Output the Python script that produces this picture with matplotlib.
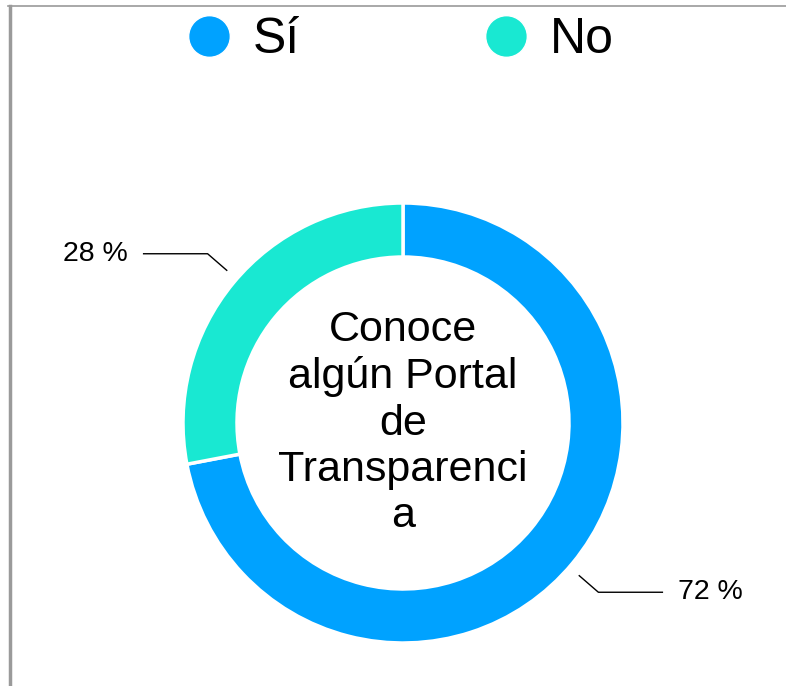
import matplotlib
matplotlib.use("Agg")
import matplotlib.pyplot as plt
from matplotlib.lines import Line2D
import numpy as np

plt.rcParams['font.family'] = ['Liberation Sans', 'DejaVu Sans']

categories = ["Sí", "No"]
values = [72, 28]
colors = ["#00A2FF", "#19E8D2"]
center_title = "Conoce\nalgún Portal\nde\nTransparenci\na"

W, H = 786, 686
fig = plt.figure(figsize=(W / 100, H / 100), dpi=100)
ax = fig.add_axes([0, 0, 1, 1])

cx, cy, R = 403, H - 423, 220
ring = 54
wedges, _ = ax.pie(values, colors=colors, startangle=90, counterclock=False,
                   center=(cx, cy), radius=R, frame=True,
                   wedgeprops=dict(width=ring, edgecolor='white', linewidth=2.5))
ax.set_xlim(0, W)
ax.set_ylim(0, H)
ax.set_aspect('equal')
ax.axis('off')

ax.text(cx, cy, center_title, ha='center', va='center', fontsize=31,
        linespacing=1.2, color='black')

for w, v in zip(wedges, values):
    ang = np.deg2rad((w.theta1 + w.theta2) / 2 - 1.3)
    x0, y0 = cx + 1.06 * R * np.cos(ang), cy + 1.06 * R * np.sin(ang)
    x1, y1 = cx + 1.175 * R * np.cos(ang), cy + 1.175 * R * np.sin(ang)
    sgn = 1 if np.cos(ang) > 0 else -1
    x2 = x1 + sgn * 64
    ax.plot([x0, x1, x2], [y0, y1, y1], color='black', lw=1)
    ax.text(x2 + sgn * 16, y1, f"{v} %", ha='left' if sgn > 0 else 'right',
            va='center', fontsize=20.5)

handles = [Line2D([], [], marker='o', linestyle='none', markersize=30,
                  markerfacecolor=c, markeredgecolor='white', markeredgewidth=1)
           for c in colors]
fig.legend(handles, categories, loc='center', bbox_to_anchor=(0.5 + 8 / W, 1 - 40 / H),
           ncol=2, frameon=False, fontsize=36, handlelength=0.85,
           handletextpad=0.45, columnspacing=3.7)

# frame lines
fig.add_artist(Line2D([8 / W, 1], [1 - 6 / H, 1 - 6 / H], color='#9a9a9a', lw=1.2))
fig.add_artist(Line2D([9.5 / W, 9.5 / W], [0, 1 - 6 / H], color='#9a9a9a', lw=2.5))

fig.savefig("out.png", dpi=100)
